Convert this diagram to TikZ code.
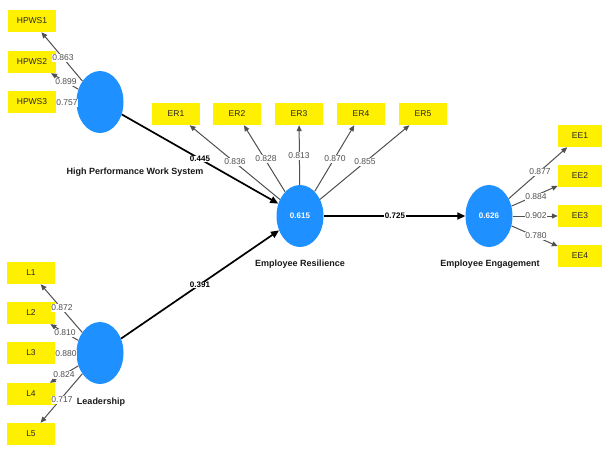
\documentclass[tikz,border=0pt]{standalone}
\usepackage{fontspec}
\setmainfont{Liberation Sans}
\usetikzlibrary{shapes.geometric,arrows.meta}
\definecolor{ind}{RGB}{255,240,0}
\definecolor{lv}{RGB}{30,144,255}
\definecolor{ldg}{RGB}{80,80,80}
\begin{document}
\begin{tikzpicture}[x=1pt,y=-1pt,
 indbox/.style={fill=ind, minimum width=48pt, minimum height=22pt, inner sep=0pt, font=\fontsize{8.5}{9}\selectfont, text=black!85},
 indboxn/.style={indbox, minimum width=44pt},
 latent/.style={ellipse, fill=lv, minimum width=47pt, minimum height=62pt, inner sep=0pt, text=white, font=\bfseries\fontsize{8}{9}\selectfont},
 loadarr/.style={draw=ldg, line width=1pt, -{Triangle[length=6pt,width=5pt]}},
 patharr/.style={draw=black, line width=1.7pt, -{Triangle[length=8pt,width=7pt]}},
 ldlab/.style={fill=white, inner sep=0.6pt, text=ldg, font=\fontsize{8.5}{9}\selectfont},
 pclab/.style={fill=white, inner sep=0.6pt, text=black, font=\bfseries\fontsize{8}{9}\selectfont},
 lvname/.style={text=black!90, font=\bfseries\fontsize{9}{10}\selectfont}
]
\fill[white] (0,0) rectangle (605,450);
\useasboundingbox (0,0) rectangle (605,450);

% latent variables
\node[latent] (hc) at (100,102) {};
\node[latent] (lc) at (100,353) {};
\node[latent] (rc) at (300,216) {0.615};
\node[latent] (ec) at (489,216) {0.626};

% names
\node[lvname] (hn) at (135,172) {High Performance Work System};
\node[lvname] (ln) at (101,402) {Leadership};
\node[lvname] (rn) at (300,264) {Employee Resilience};
\node[lvname] (en) at (490,264) {Employee Engagement};

% indicators
\node[indbox] (h1) at (32,21) {HPWS1};
\node[indbox] (h2) at (32,62) {HPWS2};
\node[indbox] (h3) at (32,102) {HPWS3};

\node[indbox] (l1) at (31,273) {L1};
\node[indbox] (l2) at (31,313) {L2};
\node[indbox] (l3) at (31,353) {L3};
\node[indbox] (l4) at (31,394) {L4};
\node[indbox] (l5) at (31,434) {L5};

\node[indbox] (r1) at (176,114) {ER1};
\node[indbox] (r2) at (237,114) {ER2};
\node[indbox] (r3) at (299,114) {ER3};
\node[indbox] (r4) at (361,114) {ER4};
\node[indbox] (r5) at (423,114) {ER5};

\node[indboxn] (e1) at (580,136) {EE1};
\node[indboxn] (e2) at (580,176) {EE2};
\node[indboxn] (e3) at (580,216) {EE3};
\node[indboxn] (e4) at (580,256) {EE4};

% loading arrows
\foreach \t in {h1,h2,h3} \draw[loadarr] (hc) -- (\t);
\foreach \t in {l1,l2,l3,l4,l5} \draw[loadarr] (lc) -- (\t);
\foreach \t in {r1,r2,r3,r4,r5} \draw[loadarr] (rc) -- (\t);
\foreach \t in {e1,e2,e3,e4} \draw[loadarr] (ec) -- (\t);

% path arrows
\draw[patharr] (hc) -- (rc);
\draw[patharr] (lc) -- (rc);
\draw[patharr] (rc) -- (ec);

% loading labels
\node[ldlab] (a1) at (63,58) {0.863};
\node[ldlab] (a2) at (66,82) {0.899};
\node[ldlab] (a3) at (67,103) {0.757};

\node[ldlab] (b1) at (62,308) {0.872};
\node[ldlab] (b2) at (65,333) {0.810};
\node[ldlab] (b3) at (66,354) {0.880};
\node[ldlab] (b4) at (64,375) {0.824};
\node[ldlab] (b5) at (62,400) {0.717};

\node[ldlab] (c1) at (235,162) {0.836};
\node[ldlab] (c2) at (266,159) {0.828};
\node[ldlab] (c3) at (299,156) {0.813};
\node[ldlab] (c4) at (335,159) {0.870};
\node[ldlab] (c5) at (365,162) {0.855};

\node[ldlab] (d1) at (540,172) {0.877};
\node[ldlab] (d2) at (536,197) {0.884};
\node[ldlab] (d3) at (536,216) {0.902};
\node[ldlab] (d4) at (536,236) {0.780};

% path coefficients
\node[pclab] (p1) at (200,159) {0.445};
\node[pclab] (p2) at (200,285) {0.391};
\node[pclab] (p3) at (395,216) {0.725};
\end{tikzpicture}
\end{document}
